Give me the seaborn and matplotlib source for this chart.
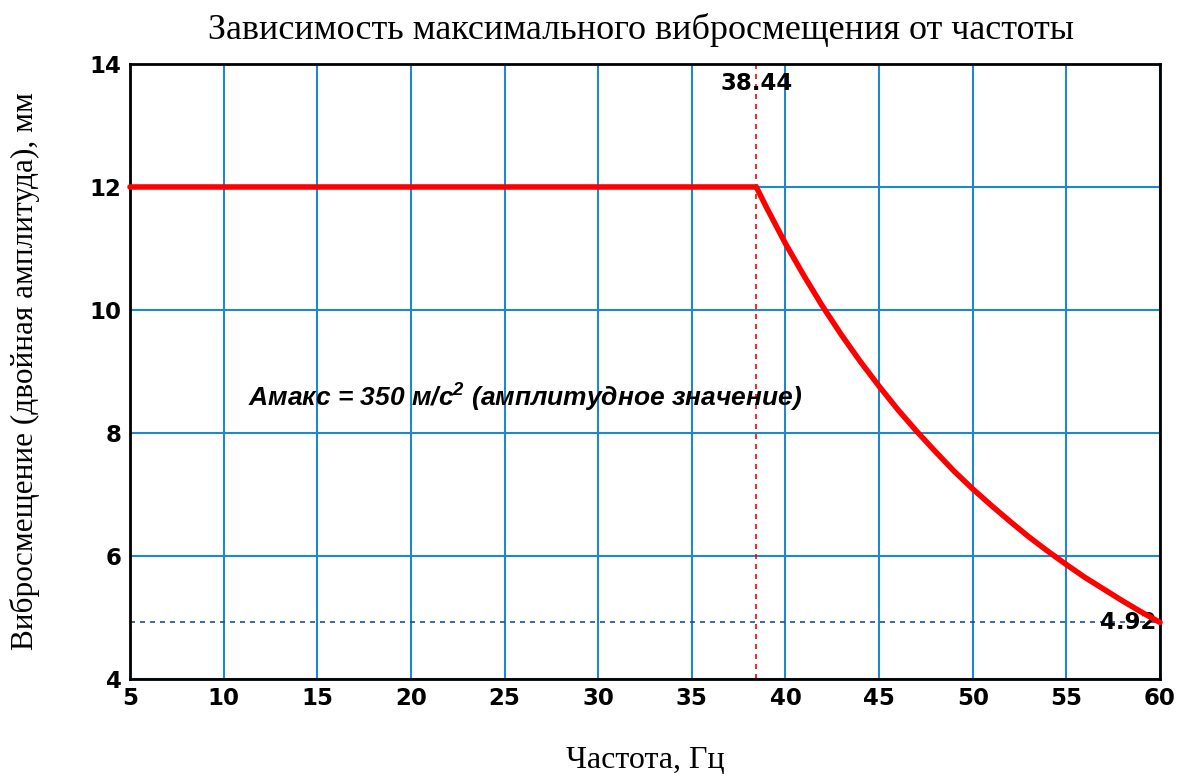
import numpy as np
import matplotlib
matplotlib.use("Agg")
import matplotlib.pyplot as plt
import seaborn as sns
import pandas as pd

# values
freq = [5, 38.44, 39, 40, 41, 42, 43, 44, 45, 46, 47, 48, 49, 50,
        51, 52, 53, 54, 55, 56, 57, 58, 59, 60]
disp = [12.0, 12.0, 11.66, 11.08, 10.55, 10.05, 9.59, 9.16, 8.76, 8.38, 8.03, 7.70,
        7.38, 7.09, 6.82, 6.56, 6.31, 6.08, 5.86, 5.65, 5.46, 5.27, 5.09, 4.92]
f_break = 38.44
d_end = 4.92
xticks = [5, 10, 15, 20, 25, 30, 35, 40, 45, 50, 55, 60]
yticks = [4, 6, 8, 10, 12, 14]

df = pd.DataFrame({"f": freq, "d": disp})

sns.set_style("white")
plt.rcParams["font.family"] = ["DejaVu Sans"]
plt.rcParams["text.color"] = "black"
plt.rcParams["mathtext.fontset"] = "custom"
plt.rcParams["mathtext.rm"] = "Liberation Sans:bold:italic"
plt.rcParams["mathtext.it"] = "Liberation Sans:bold:italic"

fig = plt.figure(figsize=(11.99, 7.83), dpi=100)
ax = fig.add_axes([0.1084, 0.1328, 0.8591, 0.7855])

ax.set_xlim(5, 60)
ax.set_ylim(4, 14)
ax.set_xticks(xticks)
ax.set_yticks(yticks)
ax.grid(True, color="#1f88cc", linewidth=1.5)
ax.set_axisbelow(True)

ax.axhline(d_end, color="#1f4f99", linestyle=(0, (3, 3)), linewidth=1.2)
ax.axvline(f_break, color="red", linestyle=(0, (3, 3)), linewidth=1.2)

sns.lineplot(data=df, x="f", y="d", color="red", linewidth=4, ax=ax,
             solid_joinstyle="miter", clip_on=False, zorder=5)

for s in ax.spines.values():
    s.set_color("black")
    s.set_linewidth(2)

ax.tick_params(length=0, pad=6, colors="black")
for lab in ax.get_xticklabels() + ax.get_yticklabels():
    lab.set_fontweight("bold")
    lab.set_fontsize(16.5)

ax.set_xlabel("Частота, Гц", family="Liberation Serif", fontsize=23,
              labelpad=26, color="black")
ax.set_ylabel("Виброcмещение (двойная амплитуда), мм", family="Liberation Serif",
              fontsize=22.5, labelpad=36, color="black")
fig.suptitle("Зависимость максимального виброcмещения от частоты",
             family="Liberation Serif", fontsize=26, x=0.535, y=0.983,
             color="black")

ax.text(f_break, 13.87, "38.44", ha="center", va="top", fontsize=16.5,
        fontweight="bold")
ax.text(59.8, d_end, "4.92", ha="right", va="center", fontsize=16.5,
        fontweight="bold")
ax.text(11.3, 8.57, "Амакс = 350 м/с$^2$ (амплитудное значение)",
        family="Liberation Sans", fontsize=19, fontweight="bold",
        style="italic", va="center")

fig.savefig("out.png", dpi=100)
